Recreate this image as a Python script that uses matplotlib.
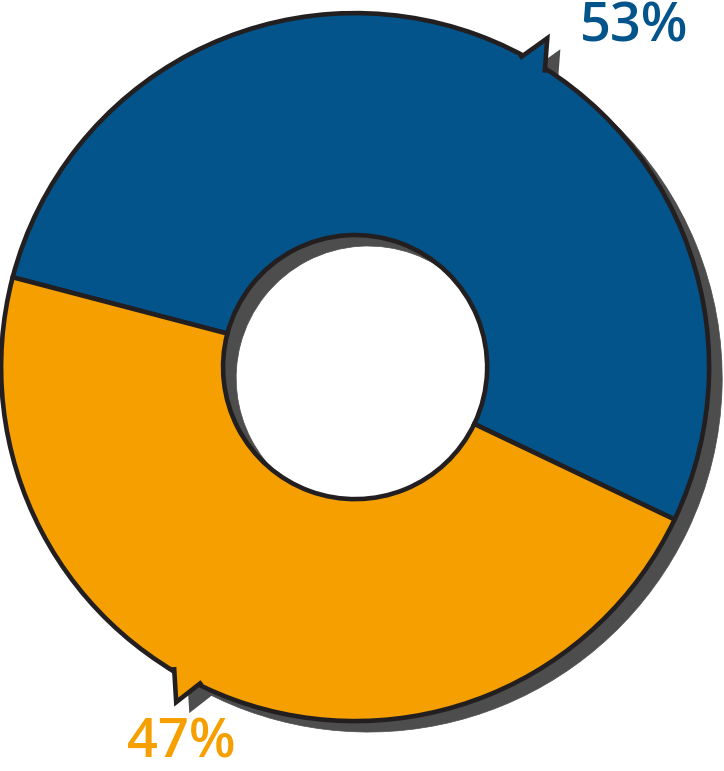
import numpy as np
import matplotlib
matplotlib.use("Agg")
import matplotlib.pyplot as plt
from matplotlib.patches import Polygon

# ---------------------------------------------------------------------------
# DATA
# ---------------------------------------------------------------------------
labels = ["53%", "47%"]
shares = [53, 47]
colors = ["#02548a", "#f5a000"]

SHADOW = "#4d4d4d"
EDGE = "#231f20"
START_ANGLE = 165.3
HOLE = 0.373
SHADOW_OFF = (0.037, -0.031)

fig = plt.figure(figsize=(7.24, 7.71), dpi=100)
ax = fig.add_axes([0, 0, 1, 1])

# shadow ring underneath
ax.pie(shares, colors=[SHADOW, SHADOW], startangle=START_ANGLE, counterclock=False,
       radius=1.0, center=SHADOW_OFF,
       wedgeprops=dict(width=1 - HOLE, edgecolor=SHADOW, linewidth=0.5))

# main ring
wedges, _ = ax.pie(shares, colors=colors, startangle=START_ANGLE, counterclock=False,
                   radius=1.0, center=(0, 0),
                   wedgeprops=dict(width=1 - HOLE, edgecolor=EDGE, linewidth=3.3))
for w in wedges:
    w.set_zorder(3)

ax.set_xlim(-1.003, 1.042)
ax.set_ylim(-1.141, 1.037)
ax.set_aspect("equal")
ax.axis("off")


def pt(ang, r, off=(0, 0)):
    a = np.deg2rad(ang)
    return (off[0] + r * np.cos(a), off[1] + r * np.sin(a))


# callout tabs (base angle 1, base angle 2, tip angle, tip radius)
tabs = [(61.8, 57.4, 59.7, 1.076, colors[0]),
        (239.1, 243.9, 241.9, 1.073, colors[1])]
for a1, a2, at, rt, c in tabs:
    b1, b2, tip = pt(a1, 0.995), pt(a2, 0.995), pt(at, rt)
    sb1, sb2, stip = (pt(a1, 0.995, SHADOW_OFF), pt(a2, 0.995, SHADOW_OFF),
                      pt(at, rt, SHADOW_OFF))
    ax.add_patch(Polygon([sb1, stip, sb2], closed=True, facecolor=SHADOW,
                         edgecolor="none", zorder=2))
    ax.add_patch(Polygon([pt(a1, 0.96), b1, tip, b2, pt(a2, 0.96)], closed=True,
                         facecolor=c, edgecolor="none", zorder=4))
    ax.plot([b1[0], tip[0], b2[0]], [b1[1], tip[1], b2[1]], color=EDGE,
            linewidth=3.3, solid_joinstyle="miter", zorder=5)

# labels
ax.text(0.788, 0.96, labels[0], color=colors[0], fontsize=39, family="Open Sans",
        fontweight="semibold", ha="center", va="center", zorder=6)
ax.text(-0.492, -1.062, labels[1], color=colors[1], fontsize=39, family="Open Sans",
        fontweight="semibold", ha="center", va="center", zorder=6)

fig.savefig("out.png", dpi=100)
